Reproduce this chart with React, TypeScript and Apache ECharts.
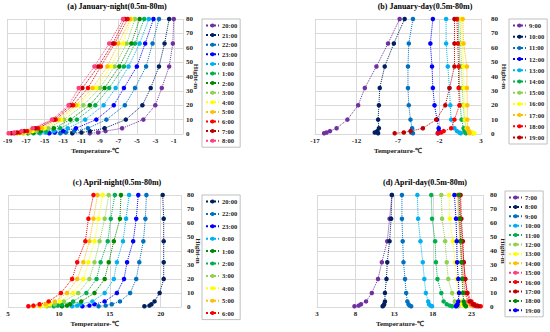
import React, { useEffect, useRef } from 'react';
import * as echarts from 'echarts';

const heights = [0.5, 1, 2, 4, 10, 20, 32, 47, 63, 80];

const PURPLE = '#7030A0';
const NAVY = '#002060';
const MEDBLUE = '#0070C0';
const BLUE = '#0000FF';
const LIGHTBLUE = '#00B0F0';
const GREEN = '#00B050';
const DARKGREEN = '#008A00';
const LIGHTGREEN = '#92D050';
const YELLOW = '#FFFF00';
const ORANGE = '#FFC000';
const RED = '#FF0000';
const DARKRED = '#C00000';
const PINK = '#FF3F7F';

// (a) January night
const janNightTimes = ['20:00', '21:00', '22:00', '23:00', '0:00', '1:00', '2:00', '3:00', '4:00', '5:00', '6:00', '7:00', '8:00'];
const janNightColors = [PURPLE, NAVY, MEDBLUE, BLUE, LIGHTBLUE, GREEN, DARKGREEN, LIGHTGREEN, YELLOW, ORANGE, RED, DARKRED, PINK];
const janNightTemps = [
  [-10.1, -9.2, -8.4, -6.6, -4.3, -3.0, -2.3, -1.5, -1.1, -1.0],
  [-12.0, -11.0, -10.1, -8.5, -6.2, -4.4, -3.5, -2.6, -2.0, -1.5],
  [-13.3, -12.7, -11.8, -10.3, -8.3, -6.3, -5.2, -4.0, -3.3, -2.6],
  [-14.5, -13.9, -13.0, -11.6, -9.4, -7.5, -6.4, -5.0, -4.1, -3.2],
  [-15.5, -14.9, -14.0, -12.5, -10.6, -8.6, -7.3, -5.9, -4.7, -3.7],
  [-16.2, -15.6, -14.8, -13.3, -11.5, -9.5, -8.0, -6.4, -5.2, -4.2],
  [-16.8, -16.2, -15.4, -14.0, -12.2, -10.1, -8.5, -6.9, -5.6, -4.7],
  [-17.3, -16.7, -15.9, -14.6, -12.9, -10.8, -9.0, -7.4, -6.1, -5.2],
  [-17.7, -17.1, -16.3, -15.0, -13.2, -11.4, -9.4, -7.8, -6.5, -5.6],
  [-18.0, -17.4, -16.6, -15.3, -13.5, -11.6, -9.8, -8.2, -7.0, -5.7],
  [-18.3, -17.7, -16.9, -15.7, -13.8, -11.9, -10.3, -8.9, -7.4, -6.0],
  [-18.6, -18.0, -17.2, -16.0, -14.0, -12.2, -10.9, -9.2, -7.6, -6.3],
  [-18.9, -18.3, -17.5, -16.3, -14.2, -12.4, -11.3, -9.6, -8.0, -6.5],
];

// (b) January day
const janDayTimes = ['9:00', '10:00', '11:00', '12:00', '13:00', '14:00', '15:00', '16:00', '17:00', '18:00', '19:00'];
const janDayColors = [PURPLE, NAVY, MEDBLUE, BLUE, LIGHTBLUE, GREEN, LIGHTGREEN, YELLOW, ORANGE, RED, DARKRED];
const janDayTemps = [
  [-15.9, -15.6, -15.2, -14.4, -13.1, -11.8, -11.0, -9.6, -8.2, -6.8],
  [-9.4, -9.8, -9.5, -9.3, -9.4, -9.3, -9.2, -8.6, -7.5, -6.2],
  [-5.2, -5.4, -5.4, -5.3, -5.5, -5.7, -5.8, -5.8, -5.7, -5.2],
  [-2.2, -2.1, -2.05, -2.1, -2.3, -2.6, -2.8, -2.9, -3.1, -2.8],
  [0.55, 0.4, 0.1, -0.2, -0.6, -0.7, -0.8, -1.0, -1.2, -1.2],
  [1.2, 1.1, 1.0, 0.9, 0.65, 0.5, 0.4, 0.45, 0.35, 0.25],
  [2.0, 1.8, 1.5, 1.25, 1.0, 0.85, 0.75, 0.65, 0.55, 0.45],
  [2.2, 1.9, 1.6, 1.3, 1.1, 1.0, 0.95, 0.9, 0.75, 0.6],
  [1.6, 1.6, 1.5, 1.4, 1.35, 1.35, 1.3, 1.3, 0.9, 0.8],
  [-2.2, -1.8, -1.5, -0.6, -0.2, 0.4, 0.3, 0.3, 0.2, 0.1],
  [-7.4, -6.3, -5.5, -4.0, -2.4, -1.3, -0.8, -0.2, -0.2, -0.2],
];

// (c) April night
const aprNightTimes = ['20:00', '22:00', '23:00', '0:00', '1:00', '2:00', '3:00', '4:00', '5:00', '6:00'];
const aprNightColors = [NAVY, MEDBLUE, BLUE, LIGHTBLUE, DARKGREEN, GREEN, LIGHTGREEN, YELLOW, ORANGE, RED];
const aprNightTemps = [
  [18.4, 18.9, 19.1, 19.4, 19.9, 20.3, 20.3, 20.3, 20.3, 20.2],
  [13.9, 14.6, 15.2, 16.0, 17.0, 17.6, 17.9, 18.3, 18.5, 18.6],
  [12.3, 13.0, 13.5, 14.5, 15.7, 16.4, 16.7, 17.3, 17.6, 17.8],
  [11.3, 11.8, 12.1, 13.3, 14.5, 15.4, 15.7, 16.3, 16.6, 16.9],
  [10.3, 10.8, 11.1, 12.2, 13.5, 14.5, 14.9, 15.4, 16.0, 16.1],
  [9.5, 9.9, 10.3, 11.4, 12.7, 13.7, 14.1, 14.8, 15.1, 15.5],
  [8.8, 9.1, 9.6, 10.5, 11.9, 13.0, 13.5, 14.0, 14.5, 14.9],
  [8.2, 8.7, 9.1, 10.1, 11.4, 12.4, 12.9, 13.5, 13.9, 14.3],
  [7.5, 8.1, 8.7, 9.6, 10.8, 11.8, 12.4, 13.0, 13.4, 13.8],
  [7.0, 7.5, 8.1, 9.0, 10.2, 11.3, 11.8, 12.6, 12.9, 13.4],
];

// (d) April day
const aprDayTimes = ['7:00', '8:00', '9:00', '10:00', '11:00', '12:00', '13:00', '14:00', '15:00', '16:00', '17:00', '18:00', '19:00'];
const aprDayColors = [PURPLE, NAVY, MEDBLUE, LIGHTBLUE, GREEN, LIGHTGREEN, YELLOW, ORANGE, PINK, RED, DARKRED, DARKGREEN, BLUE];
const aprDayTemps = [
  [7.85, 8.4, 8.7, 9.35, 10.1, 10.9, 11.4, 12.1, 12.4, 12.7],
  [11.5, 11.6, 11.7, 11.8, 11.8, 12.0, 12.1, 12.4, 12.6, 12.7],
  [15.2, 15.0, 14.85, 14.7, 14.55, 14.4, 14.2, 14.1, 14.0, 14.0],
  [17.9, 17.7, 17.5, 17.4, 17.1, 16.9, 16.7, 16.4, 16.1, 16.0],
  [20.5, 20.2, 19.8, 19.4, 19.1, 18.6, 18.4, 18.3, 17.9, 17.8],
  [21.3, 21.1, 20.95, 20.85, 20.5, 20.0, 19.8, 19.6, 19.2, 19.1],
  [22.2, 22.0, 21.8, 21.6, 21.3, 21.1, 20.9, 20.6, 20.2, 20.1],
  [23.2, 23.0, 22.8, 22.5, 22.1, 21.9, 21.7, 21.5, 21.3, 21.2],
  [23.6, 23.3, 23.0, 22.6, 22.2, 22.0, 21.8, 21.6, 21.4, 21.3],
  [24.2, 23.8, 23.4, 23.0, 22.5, 22.2, 22.0, 21.8, 21.6, 21.5],
  [23.9, 23.5, 23.2, 22.8, 22.4, 22.2, 22.0, 21.9, 21.7, 21.6],
  [22.3, 22.2, 22.1, 22.0, 21.9, 21.8, 21.7, 21.6, 21.5, 21.4],
  [21.0, 21.1, 21.2, 21.3, 21.4, 21.3, 21.15, 21.1, 21.0, 20.8],
];

const FONT = 'Liberation Serif';

const panels = [
  {
    title: '(a) January-night(0.5m-80m)', times: janNightTimes, colors: janNightColors, temps: janNightTemps,
    xMin: -19, xMax: 0, xInterval: 2,
    ox: 0, oy: 0, grid: { left: 7, top: 19, width: 176, height: 115 }, titleX: 117, titleY: 6,
    yLabelMargin: 3, yNameGap: 9,
    legend: { left: 202, top: 19, gap: 2.6 },
  },
  {
    title: '(b) January-day(0.5m-80m)', times: janDayTimes, colors: janDayColors, temps: janDayTemps,
    xMin: -17, xMax: 3, xInterval: 5,
    ox: 275, oy: 0, grid: { left: 40, top: 19, width: 166, height: 115 }, titleX: 150, titleY: 6,
    yLabelMargin: 10, yNameGap: 19,
    legend: { left: 234, top: 19, gap: 4.2 },
  },
  {
    title: '(c) April-night(0.5m-80m)', times: aprNightTimes, colors: aprNightColors, temps: aprNightTemps,
    xMin: 5, xMax: 22, xInterval: 5,
    ox: 0, oy: 166, grid: { left: 8, top: 29, width: 173, height: 114 }, titleX: 117, titleY: 16,
    yLabelMargin: 6, yNameGap: 13.5,
    legend: { left: 202, top: 29, gap: 5.4 },
  },
  {
    title: '(d) April-day(0.5m-80m)', times: aprDayTimes, colors: aprDayColors, temps: aprDayTemps,
    xMin: 3, xMax: 24.5, xInterval: 5,
    ox: 275, oy: 166, grid: { left: 42, top: 29, width: 166, height: 114 }, titleX: 150, titleY: 16,
    yLabelMargin: 7, yNameGap: 16.5,
    legend: { left: 230, top: 25, gap: 2.4 },
  },
];

function buildOption(p: any) {
  const labelStyle = { fontSize: 7, fontWeight: 'bold', fontFamily: FONT, color: '#222' };
  const series = p.times.map((t: string, i: number) => ({
    name: t,
    type: 'line',
    data: p.temps[i].map((v: number, j: number) => [v, heights[j]]),
    symbol: 'circle',
    symbolSize: 4.5,
    showSymbol: true,
    lineStyle: { type: 'dotted', width: 1, color: p.colors[i] },
    itemStyle: { color: p.colors[i] },
    emphasis: { disabled: true },
  }));
  return {
    animation: false,
    grid: { ...p.grid, containLabel: false },
    xAxis: {
      type: 'value', min: p.xMin, max: p.xMax, interval: p.xInterval,
      name: 'Temperature-℃', nameLocation: 'middle', nameGap: 13, nameMoveOverlap: false,
      nameTextStyle: { ...labelStyle },
      axisLine: { show: true, lineStyle: { color: '#d9d9d9' } },
      axisTick: { show: false },
      axisLabel: {
        ...labelStyle, margin: 3, showMaxLabel: true, showMinLabel: true, hideOverlap: false,
        formatter: (v: number) => {
          const k = (v - p.xMin) / p.xInterval;
          return Math.abs(k - Math.round(k)) < 1e-6 ? String(v) : '';
        },
      },
      splitLine: { show: true, lineStyle: { color: '#d9d9d9', width: 1 } },
    },
    yAxis: {
      type: 'value', position: 'right', min: 0, max: 80, interval: 10,
      name: 'Hight-m', nameLocation: 'middle', nameRotate: -90, nameGap: p.yNameGap, nameMoveOverlap: false,
      nameTextStyle: { ...labelStyle },
      axisLine: { show: false },
      axisTick: { show: false },
      axisLabel: { ...labelStyle, margin: p.yLabelMargin },
      splitLine: { show: true, lineStyle: { color: '#d9d9d9', width: 1 } },
    },
    legend: {
      orient: 'vertical', left: p.legend.left, top: p.legend.top,
      itemWidth: 13, itemHeight: 5, itemGap: p.legend.gap,
      padding: [3, 3, 3, 3], borderColor: '#bfbfbf', borderWidth: 1,
      textStyle: { fontSize: 6.5, fontWeight: 'bold', fontFamily: FONT, color: '#222', padding: [0, 0, 0, -2] },
      data: p.times, selectedMode: false,
    },
    graphic: [
      {
        type: 'text', x: p.titleX, y: p.titleY,
        style: { text: p.title, align: 'center', verticalAlign: 'middle', fontSize: 8, fontWeight: 'bold', fontFamily: FONT, fill: '#000' },
      },
    ],
    series,
  };
}

export default function App() {
  const r0 = useRef<HTMLDivElement>(null);
  const r1 = useRef<HTMLDivElement>(null);
  const r2 = useRef<HTMLDivElement>(null);
  const r3 = useRef<HTMLDivElement>(null);
  const refs = [r0, r1, r2, r3];
  useEffect(() => {
    const charts = panels.map((p, i) => {
      const c = echarts.init(refs[i].current as HTMLDivElement, null, { renderer: 'svg' });
      c.setOption(buildOption(p) as any);
      return c;
    });
    return () => charts.forEach((c) => c.dispose());
  }, []);
  return (
    <div style={{ position: 'fixed', left: 0, top: 0, width: 550, height: 332, background: '#fff' }}>
      {panels.map((p, i) => (
        <div key={i} ref={refs[i]} style={{ position: 'absolute', left: p.ox, top: p.oy, width: 275, height: 166 }} />
      ))}
    </div>
  );
}
